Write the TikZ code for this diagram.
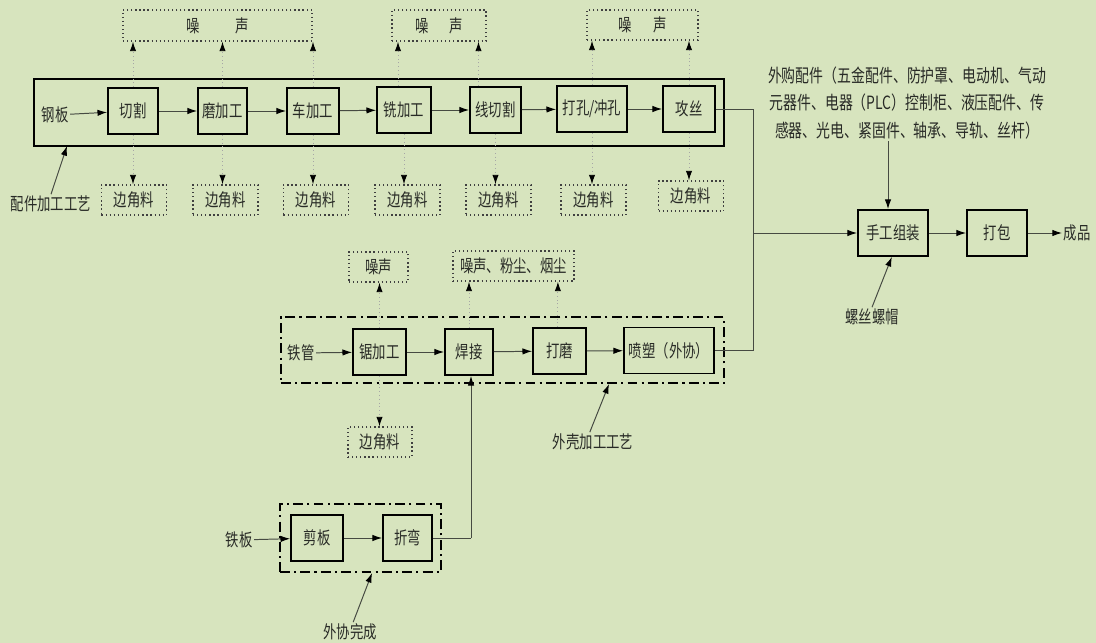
\documentclass[tikz,border=0pt]{standalone}
\usepackage{fontspec}
\usepackage{tikz}
\usetikzlibrary{positioning,arrows.meta,calc}
\newfontfamily\cjk[FakeStretch=0.76]{Noto Sans CJK SC}
\definecolor{bg}{RGB}{215,228,190}
\definecolor{linegray}{RGB}{70,74,66}
\definecolor{txt}{RGB}{40,42,38}

\begin{document}
\begin{tikzpicture}[
  x=0.025cm, y=-0.025cm,
  font=\cjk\fontsize{12.5}{15}\selectfont, text=txt,
  arr/.style={-{Latex[length=2.4mm,width=1.6mm,color=black]}, line width=0.7pt, draw=linegray},
  lnk/.style={line width=0.7pt, draw=linegray},
  proc/.style={draw=black, line width=1.3pt, minimum height=1.15cm, inner sep=1pt},
  waste/.style={draw=black!75, dotted, line width=0.9pt, minimum height=0.75cm, inner sep=1pt},
  dotarr/.style={-{Latex[length=2.4mm,width=1.6mm,color=black]}, dotted, draw=black!35, line width=0.7pt},
  grp/.style={draw=black, line width=1.3pt, dash pattern=on 7pt off 3pt on 1.5pt off 3pt},
  lbl/.style={align=center, inner sep=1pt}
]
\fill[bg] (0,0) rectangle (1096,643);
% --- Parts machining line ---
\node[draw=black, line width=1.3pt, minimum width=17.25cm, minimum height=1.675cm] (partsbox) at (379,112.5) {};
\node[lbl] (steel) at (55,115) {钢板};
\node[proc, minimum width=1.25cm]  (cut)   at (133,111)   {切割};
\node[proc, minimum width=1.225cm] (grind) at (222.5,111) {磨加工};
\node[proc, minimum width=1.3cm]   (lathe) at (313,111)   {车加工};
\node[proc, minimum width=1.35cm]  (mill)  at (404,110)   {铣加工};
\node[proc, minimum width=1.275cm] (wire)  at (495.5,110) {线切割};
\node[proc, minimum width=1.75cm]  (punch) at (592,109)   {打孔/冲孔};
\node[proc, minimum width=1.3cm]   (tap)   at (689,109)   {攻丝};
\foreach \a/\b in {steel/cut, cut/grind, grind/lathe, lathe/mill, mill/wire, wire/punch, punch/tap}
  \draw[arr] (\a) -- (\b);
% noise above
\node[waste, minimum width=4.725cm, minimum height=0.775cm] (noiseA) at (217.5,25.5) {噪\hspace{2em}声};
\node[waste, minimum width=2.35cm,  minimum height=0.775cm] (noiseB) at (439,25.5)   {噪\hspace{1.2em}声};
\node[waste, minimum width=2.775cm, minimum height=0.75cm]  (noiseC) at (642.5,25)   {噪\hspace{1.2em}声};
\draw[dotarr] (cut.north) -- (cut.north |- noiseA.south);
\draw[dotarr] (grind.north) -- (grind.north |- noiseA.south);
\draw[dotarr] (lathe.north) -- (lathe.north |- noiseA.south);
\draw[dotarr] ([xshift=-0.15cm]mill.north) -- ([xshift=-0.15cm]mill.north |- noiseB.south);
\draw[dotarr] ([xshift=-0.425cm]wire.north) -- ([xshift=-0.425cm]wire.north |- noiseB.south);
\draw[dotarr] (punch.north) -- (punch.north |- noiseC.south);
\draw[dotarr] (tap.north) -- (tap.north |- noiseC.south);
% scrap below
\foreach \n/\x/\y/\p in {sA/134/200/cut, sB/225.5/200/grind, sC/316/200/lathe, sD/407.5/200/mill, sE/498.5/200/wire, sF/593.5/200/punch, sG/691/196/tap} {
  \node[waste, minimum width=1.625cm] (\n) at (\x,\y) {边角料};
  \draw[dotarr] (\p.south) -- (\p.south |- \n.north);
}
\node[lbl] (partslbl) at (51,204) {配件加工工艺};
\coordinate (partsin) at (67,146);
\draw[arr] (partslbl.north) -- (partsin);
% --- Housing line ---
\node[grp, minimum width=11.075cm, minimum height=1.65cm] (shellbox) at (502.5,350) {};
\node[lbl] (pipe) at (301,353) {铁管};
\node[proc, minimum width=1.325cm] (saw)   at (379.5,352) {锯加工};
\node[proc, minimum width=1.2cm]   (weld)  at (469,352)   {焊接};
\node[proc, minimum width=1.325cm] (polish) at (559.5,351) {打磨};
\node[proc, minimum width=2.25cm]  (spray) at (669,350.5) {喷塑（外协）};
\foreach \a/\b in {pipe/saw, saw/weld, weld/polish, polish/spray}
  \draw[arr] (\a) -- (\b);
\node[waste, minimum width=1.475cm] (noiseD) at (378.5,267) {噪声};
\node[waste, minimum width=3.025cm] (noiseE) at (513.5,266) {噪声、粉尘、烟尘};
\draw[dotarr] (saw.north) -- (saw.north |- noiseD.south);
\draw[dotarr] (weld.north) -- (weld.north |- noiseE.south);
\draw[dotarr] ([xshift=-0.04cm]polish.north) -- ([xshift=-0.04cm]polish.north |- noiseE.south);
\node[waste, minimum width=1.6cm] (sH) at (380,442) {边角料};
\draw[dotarr] (saw.south) -- (saw.south |- sH.north);
\node[lbl] (shelllbl) at (593,442) {外壳加工工艺};
\coordinate (shellin) at (609,384);
\draw[arr] ([xshift=-0.08cm]shelllbl.north) -- (shellin);
% --- Outsourced sheet ---
\node[grp, minimum width=4.025cm, minimum height=1.7cm] (outbox) at (360.5,538) {};
\node[lbl] (sheet) at (239,540) {铁板};
\node[proc, minimum width=1.3cm]   (shear) at (317,538)   {剪板};
\node[proc, minimum width=1.225cm] (bend)  at (407.5,538) {折弯};
\draw[arr] (sheet) -- (shear);
\draw[arr] (shear) -- (bend);
\coordinate (bendout) at (471,538);
\draw[lnk] (bend.east) -- (bendout);
\draw[arr] (bendout) -- (bendout |- weld.south);
\node[lbl] (outlbl) at (350,632) {外协完成};
\coordinate (outin) at (372,573);
\draw[arr] ([xshift=0.08cm]outlbl.north) -- (outin);
% --- Assembly ---
\node[proc, minimum width=1.75cm] (asm)  at (893,233) {手工组装};
\node[proc, minimum width=1.5cm]  (pack) at (997,233) {打包};
\node[lbl, anchor=west] (prod) at (1062,233) {成品};
\coordinate (join) at (753,233);
\draw[lnk] (tap.east) -| (join);
\draw[lnk] (spray.east) -| (join);
\draw[arr] (join) -- (asm.west);
\draw[arr] (asm) -- (pack);
\draw[arr] (pack) -- (prod);
\node[lbl, font=\cjk\fontsize{13}{19.8}\selectfont] (buy) at (907,103) {外购配件（五金配件、防护罩、电动机、气动\\元器件、电器（PLC）控制柜、液压配件、传\\感器、光电、紧固件、轴承、导轨、丝杆）};
\draw[arr] (buy.south -| 888,0) -- (asm.north -| 888,0);
\node[lbl] (screw) at (872,317) {螺丝螺帽};
\draw[arr] (screw.north) -- ([xshift=-0.03cm]asm.south);
\end{tikzpicture}
\end{document}
